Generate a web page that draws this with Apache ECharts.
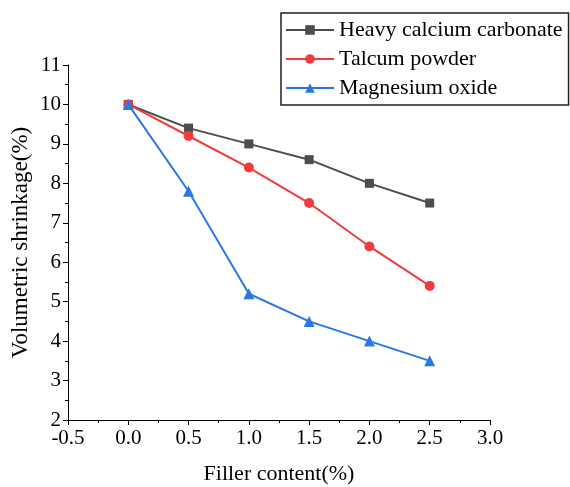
<!DOCTYPE html>
<html>
<head>
<meta charset="utf-8">
<script src="https://cdn.jsdelivr.net/npm/echarts@6/dist/echarts.min.js"></script>
<style>
  html, body { margin: 0; padding: 0; background: #fff; }
  #main { width: 570px; height: 487px; }
</style>
</head>
<body>
<div id="main"></div>
<script>
var fillerContent = [0.0, 0.5, 1.0, 1.5, 2.0, 2.5];
var heavyCalcium = [10.0, 9.4, 9.0, 8.6, 8.0, 7.5];
var talcum = [10.0, 9.2, 8.4, 7.5, 6.4, 5.4];
var magnesium = [10.0, 7.8, 5.2, 4.5, 4.0, 3.5];
var seriesNames = ['Heavy calcium carbonate', 'Talcum powder', 'Magnesium oxide'];

function pairs(ys) {
    return fillerContent.map(function (x, i) { return [x, ys[i]]; });
}

var font = 'Liberation Serif';
var chart = echarts.init(document.getElementById('main'));

chart.setOption({
    animation: false,
    textStyle: { fontFamily: font },
    grid: { left: 68, right: 80, top: 65, bottom: 67, outerBoundsMode: 'none', containLabel: false },
    legend: {
        orient: 'vertical',
        left: 281,
        top: 13,
        borderColor: '#222',
        borderWidth: 1.5,
        padding: [6, 6, 6, 4],
        itemWidth: 48,
        itemHeight: 12,
        itemGap: 7,
        textStyle: { fontFamily: font, fontSize: 22, color: '#000' },
        data: seriesNames
    },
    xAxis: {
        type: 'value',
        min: -0.5,
        max: 3.0,
        interval: 0.5,
        name: 'Filler content(%)',
        nameLocation: 'middle',
        nameGap: 43,
        nameTextStyle: { fontFamily: font, fontSize: 22, color: '#000' },
        axisLine: { onZero: false, lineStyle: { color: '#000', width: 1 } },
        axisTick: { inside: false, length: 5, lineStyle: { color: '#000' } },
        minorTick: { show: true, splitNumber: 2, length: 3, lineStyle: { color: '#000' } },
        splitLine: { show: false },
        axisLabel: {
            color: '#000', fontSize: 21, fontFamily: font, margin: 8,
            formatter: function (v) { return v.toFixed(1); }
        }
    },
    yAxis: {
        type: 'value',
        min: 2,
        max: 11,
        interval: 1,
        name: 'Volumetric shrinkage(%)',
        nameLocation: 'middle',
        nameGap: 36,
        nameMoveOverlap: false,
        nameTextStyle: { fontFamily: font, fontSize: 23, color: '#000' },
        axisLine: { show: true, onZero: false, lineStyle: { color: '#000', width: 1 } },
        axisTick: { show: true, inside: false, length: 5, lineStyle: { color: '#000' } },
        minorTick: { show: true, splitNumber: 2, length: 3, lineStyle: { color: '#000' } },
        splitLine: { show: false },
        axisLabel: { color: '#000', fontSize: 21, fontFamily: font, margin: 7 }
    },
    series: [
        {
            name: seriesNames[0],
            type: 'line',
            data: pairs(heavyCalcium),
            symbol: 'rect',
            symbolSize: 9,
            color: '#4d4d4d',
            lineStyle: { width: 2 }
        },
        {
            name: seriesNames[1],
            type: 'line',
            data: pairs(talcum),
            symbol: 'circle',
            symbolSize: 10,
            color: '#f03c3c',
            lineStyle: { width: 2 }
        },
        {
            name: seriesNames[2],
            type: 'line',
            data: pairs(magnesium),
            symbol: 'triangle',
            symbolSize: 11,
            color: '#2a78e0',
            lineStyle: { width: 2 }
        }
    ]
});
</script>
</body>
</html>
